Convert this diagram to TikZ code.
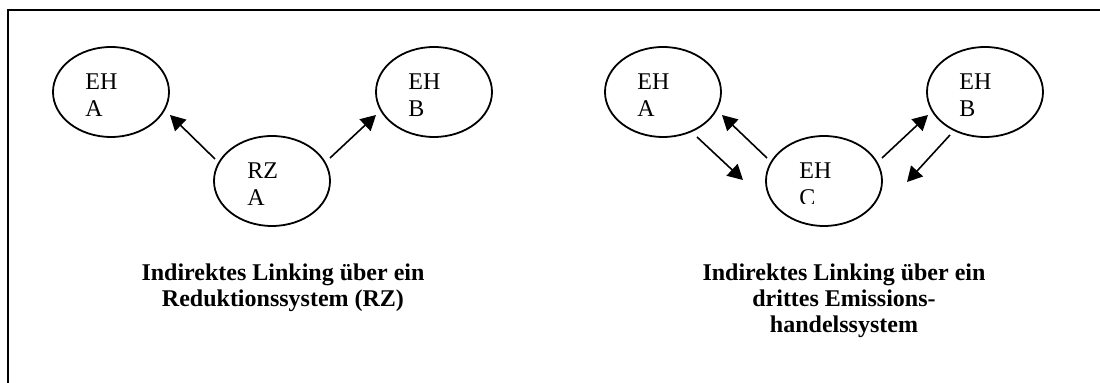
\documentclass[tikz,border=0pt]{standalone}
\usepackage{fontspec}
\setmainfont{Liberation Serif}
\usetikzlibrary{shapes.geometric,arrows.meta}
\begin{document}
\begin{tikzpicture}[x=0.5pt,y=-0.5pt,
  sys/.style={ellipse,draw,line width=0.9pt,minimum width=58pt,minimum height=45pt,inner sep=0pt},
  lbl/.style={anchor=base west,inner sep=0pt,font=\fontsize{12}{13.5}\selectfont},
  captxt/.style={align=center,inner sep=0pt,anchor=north,font=\fontsize{12}{13}\selectfont\bfseries},
  arr/.style={line width=0.8pt,-{Triangle[length=7.5pt,width=8pt]}}]
\useasboundingbox (0,0) rectangle (1100,383);
\draw[line width=1pt] (8,383) -- (8,10) -- (1100,10);
% left group
\node[sys] (lA) at (111,92) {};
\node[sys] (lB) at (434,92) {};
\node[sys] (lR) at (272,181) {};
\node[lbl] (lAt1) at ([shift={(-26,-2)}]lA.center) {EH};
\node[lbl] (lAt2) at ([shift={(-26,25)}]lA.center) {A};
\node[lbl] (lBt1) at ([shift={(-26,-2)}]lB.center) {EH};
\node[lbl] (lBt2) at ([shift={(-26,25)}]lB.center) {B};
\node[lbl] (lRt1) at ([shift={(-25,-2)}]lR.center) {RZ};
\node[lbl] (lRt2) at ([shift={(-25,25)}]lR.center) {A};
\coordinate (l1s) at ([shift={(-57,-22)}]lR.center);
\coordinate (l1e) at ([shift={(59,23)}]lA.center);
\coordinate (l2s) at ([shift={(58,-23)}]lR.center);
\coordinate (l2e) at ([shift={(-58,23)}]lB.center);
\draw[arr] (l1s) -- (l1e);
\draw[arr] (l2s) -- (l2e);
\node[captxt] (lcap) at (283,263) {Indirektes Linking über ein\\Reduktionssystem (RZ)};
% right group
\node[sys] (rA) at (663,92) {};
\node[sys] (rB) at (985,92) {};
\node[sys] (rC) at (824,181) {};
\node[lbl] (rAt1) at ([shift={(-26,-2)}]rA.center) {EH};
\node[lbl] (rAt2) at ([shift={(-26,25)}]rA.center) {A};
\node[lbl] (rBt1) at ([shift={(-26,-2)}]rB.center) {EH};
\node[lbl] (rBt2) at ([shift={(-26,25)}]rB.center) {B};
\node[lbl] (rCt1) at ([shift={(-25,-2)}]rC.center) {EH};
\begin{scope}
\clip (780,185) rectangle (840,204);
\node[lbl] (rCt2) at ([shift={(-25,25)}]rC.center) {C};
\end{scope}
\coordinate (r1s) at ([shift={(-57,-23)}]rC.center);
\coordinate (r1e) at ([shift={(59,23)}]rA.center);
\coordinate (r2s) at ([shift={(34,45)}]rA.center);
\coordinate (r2e) at ([shift={(-81,-1)}]rC.center);
\coordinate (r3s) at ([shift={(58,-23)}]rC.center);
\coordinate (r3e) at ([shift={(-57,23)}]rB.center);
\coordinate (r4s) at ([shift={(-35,43)}]rB.center);
\coordinate (r4e) at ([shift={(83,1)}]rC.center);
\draw[arr] (r1s) -- (r1e);
\draw[arr] (r2s) -- (r2e);
\draw[arr] (r3s) -- (r3e);
\draw[arr] (r4s) -- (r4e);
\node[captxt] (rcap) at (844,263) {Indirektes Linking über ein\\drittes Emissions-\\handelssystem};
\end{tikzpicture}
\end{document}
